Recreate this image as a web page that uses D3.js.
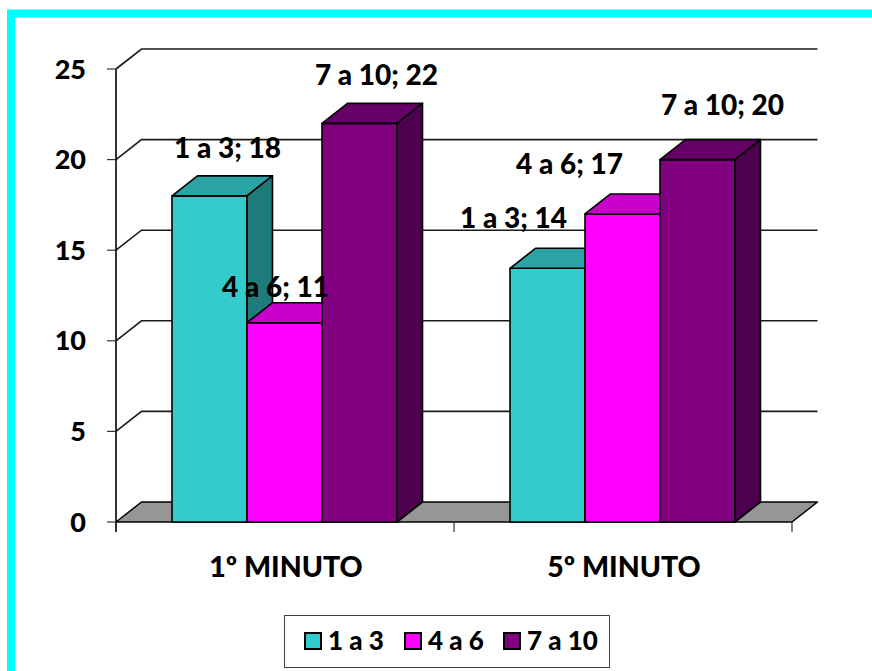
<!DOCTYPE html>
<html>
<head>
<meta charset="utf-8">
<script src="https://cdn.jsdelivr.net/npm/d3@7"></script>
<style>
  html, body { margin: 0; padding: 0; background: #fff; }
  svg { display: block; }
  text { font-family: Lato, "Open Sans", sans-serif; font-weight: 900; fill: #000; }
</style>
</head>
<body>
<svg id="chart" width="872" height="671"></svg>
<script>
// Apgar score groups measured at the 1st and 5th minute
const categories = ["1º MINUTO", "5º MINUTO"];
const seriesNames = ["1 a 3", "4 a 6", "7 a 10"];
const values1a3 = [18, 14];
const values4a6 = [11, 17];
const values7a10 = [22, 20];
const yTicks = [0, 5, 10, 15, 20, 25];

const seriesValues = [values1a3, values4a6, values7a10];
const frontColors = ["#33CCCC", "#FF00FF", "#800080"];

const svg = d3.select("#chart");

// outer frame
svg.append("rect")
  .attr("x", 11).attr("y", 13.5)
  .attr("width", 900).attr("height", 700)
  .attr("fill", "none").attr("stroke", "#00FFFF").attr("stroke-width", 8);

// plot geometry
const x0 = 116, x1 = 792;
const dx = 25.5, dy = -20;     // depth offset of the 3D walls
const y = d3.scaleLinear().domain([0, 25]).range([522, 69]);
const xCat = d3.scaleBand().domain(categories).range([x0, x1]).padding(0);
const xSer = d3.scaleBand().domain(seriesNames).range([56, 281]).padding(0);

const shade = (c, k) => { const o = d3.rgb(c); return d3.rgb(o.r * k, o.g * k, o.b * k).formatHex(); };

// floor
svg.append("path")
  .attr("d", `M${x0},${y(0)} L${x1},${y(0)} L${x1 + dx},${y(0) + dy} L${x0 + dx},${y(0) + dy} Z`)
  .attr("fill", "#969696").attr("stroke", "#000").attr("stroke-width", 1.5).attr("stroke-linejoin", "round");

// gridlines on back wall and side wall
const grid = svg.append("g").attr("fill", "none").attr("stroke", "#1a1a1a").attr("stroke-width", 1.6);
yTicks.filter(t => t > 0).forEach(t => {
  grid.append("path")
    .attr("d", `M${x0},${y(t)} L${x0 + dx},${y(t) + dy} L${x1 + dx},${y(t) + dy}`);
});

// value axis line and ticks
svg.append("line").attr("x1", x0).attr("x2", x0).attr("y1", y(25)).attr("y2", y(0) + 10)
  .attr("stroke", "#000").attr("stroke-width", 1.6);
const yAxis = svg.append("g");
yTicks.forEach(t => {
  yAxis.append("line").attr("x1", x0 - 9).attr("x2", x0).attr("y1", y(t)).attr("y2", y(t))
    .attr("stroke", "#333").attr("stroke-width", 1.2);
  yAxis.append("text").attr("x", 86).attr("y", y(t) + 9.5)
    .attr("text-anchor", "end").attr("font-size", 27).text(t);
});

// category ticks and labels
[x0, x0 + xCat.bandwidth(), x1].forEach(xx => {
  svg.append("line").attr("x1", xx).attr("x2", xx).attr("y1", y(0)).attr("y2", y(0) + 10)
    .attr("stroke", "#333").attr("stroke-width", 1.2);
});
categories.forEach(c => {
  svg.append("text").attr("x", xCat(c) + xCat.bandwidth() / 2 + 1).attr("y", 577)
    .attr("text-anchor", "middle").attr("font-size", 28.5).text(c);
});

// 3D columns, drawn left to right so nearer faces cover farther ones
const bars = svg.append("g").attr("stroke", "#000").attr("stroke-width", 1.6).attr("stroke-linejoin", "round");
categories.forEach((c, ci) => {
  seriesNames.forEach((s, si) => {
    const v = seriesValues[si][ci];
    const bx = xCat(c) + xSer(s), bw = xSer.bandwidth();
    const top = y(v), base = y(0);
    const col = frontColors[si];
    bars.append("rect").attr("x", bx).attr("y", top).attr("width", bw).attr("height", base - top)
      .attr("fill", col);
    bars.append("path")
      .attr("d", `M${bx},${top} L${bx + dx},${top + dy} L${bx + bw + dx},${top + dy} L${bx + bw},${top} Z`)
      .attr("fill", shade(col, 0.8));
    bars.append("path")
      .attr("d", `M${bx + bw},${top} L${bx + bw + dx},${top + dy} L${bx + bw + dx},${base + dy} L${bx + bw},${base} Z`)
      .attr("fill", shade(col, 0.6));
  });
});

// data labels "serie; valor" with small per-label nudges to avoid overlaps
const labelNudge = [
  [[18, -38], [-34, -40]],
  [[-9, -26], [-53, -40]],
  [[17, -38], [25, -45]]
];
const labels = svg.append("g");
seriesNames.forEach((s, si) => {
  categories.forEach((c, ci) => {
    const v = seriesValues[si][ci];
    const cx = xCat(c) + xSer(s) + xSer.bandwidth() / 2;
    const [nx, ny] = labelNudge[si][ci];
    labels.append("text")
      .attr("x", cx + nx).attr("y", y(v) + ny)
      .attr("text-anchor", "middle").attr("font-size", 28)
      .text(`${s}; ${v}`);
  });
});

// legend
const lg = svg.append("g");
lg.append("rect").attr("x", 284.5).attr("y", 615.5).attr("width", 325).attr("height", 52)
  .attr("fill", "#fff").attr("stroke", "#404040").attr("stroke-width", 1);
const legX = [305, 405, 504];
seriesNames.forEach((s, i) => {
  lg.append("rect").attr("x", legX[i]).attr("y", 633).attr("width", 16).attr("height", 16)
    .attr("fill", frontColors[i]).attr("stroke", "#000").attr("stroke-width", 2);
  lg.append("text").attr("x", legX[i] + 23).attr("y", 650).attr("font-size", 26).text(s);
});
</script>
</body>
</html>
